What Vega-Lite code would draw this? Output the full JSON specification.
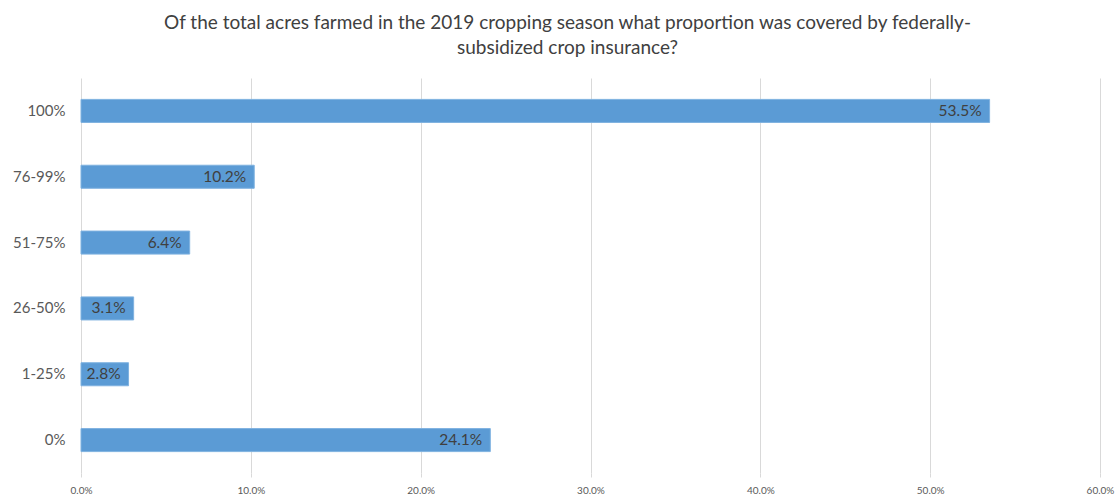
{
  "$schema": "https://vega.github.io/schema/vega-lite/v6.json",
  "width": 1019,
  "height": 395,
  "autosize": {"type": "none"},
  "padding": {"left": 81, "top": 78, "right": 17, "bottom": 25},
  "background": "white",
  "title": {
    "text": ["Of the total acres farmed in the 2019 cropping season what proportion was covered by federally-", "subsidized crop insurance?"],
    "anchor": "middle",
    "dx": -23,
    "offset": 20,
    "font": "Lato",
    "fontSize": 19,
    "fontWeight": "normal",
    "color": "#404040",
    "lineHeight": 25
  },
  "data": {
    "values": [
      {"category": "100%", "value": 0.535},
      {"category": "76-99%", "value": 0.102},
      {"category": "51-75%", "value": 0.064},
      {"category": "26-50%", "value": 0.031},
      {"category": "1-25%", "value": 0.028},
      {"category": "0%", "value": 0.241}
    ]
  },
  "encoding": {
    "y": {
      "field": "category",
      "type": "nominal",
      "sort": null,
      "scale": {"paddingInner": 0.65, "paddingOuter": 0.325},
      "axis": {
        "title": null,
        "domain": false,
        "ticks": false,
        "labelPadding": 16,
        "labelFont": "Lato",
        "labelFontSize": 15,
        "labelColor": "#595959"
      }
    },
    "x": {
      "field": "value",
      "type": "quantitative",
      "scale": {"domain": [0, 0.6], "nice": false},
      "axis": {
        "title": null,
        "values": [0, 0.1, 0.2, 0.3, 0.4, 0.5, 0.6],
        "format": ".1%",
        "labelFlush": false,
        "labelBound": false,
        "labelOverlap": false,
        "domain": false,
        "ticks": true,
        "tickSize": 4,
        "tickColor": "#d9d9d9",
        "grid": true,
        "gridColor": "#d9d9d9",
        "gridWidth": 1,
        "labelPadding": 8,
        "labelFont": "Lato",
        "labelFontSize": 10,
        "labelColor": "#595959"
      }
    }
  },
  "layer": [
    {
      "mark": {"type": "bar", "color": "#5B9BD5", "stroke": "#7FB2E0", "strokeWidth": 1}
    },
    {
      "mark": {"type": "text", "align": "right", "baseline": "middle", "dx": -8, "font": "Lato", "fontSize": 15.5, "color": "#404040"},
      "encoding": {
        "text": {"field": "value", "type": "quantitative", "format": ".1%"}
      }
    }
  ],
  "config": {"view": {"stroke": null}}
}
